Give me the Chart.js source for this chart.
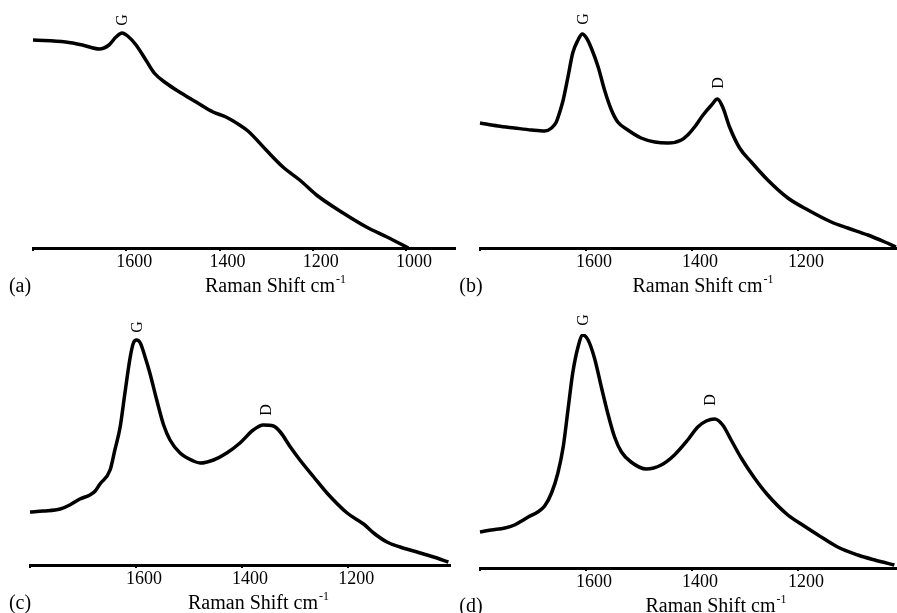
<!DOCTYPE html>
<html>
<head>
<meta charset="utf-8">
<script src="https://cdn.jsdelivr.net/npm/chart.js@4.4.0/dist/chart.umd.min.js"></script>
<style>
  body { margin: 0; background: #fff; }
  .panel { position: absolute; }
</style>
</head>
<body>
<div class="panel" style="left:0;top:0;width:458px;height:300px"><canvas id="chartA"></canvas></div>
<div class="panel" style="left:448px;top:0;width:449px;height:300px"><canvas id="chartB"></canvas></div>
<div class="panel" style="left:0;top:300px;width:452px;height:313px"><canvas id="chartC"></canvas></div>
<div class="panel" style="left:448px;top:300px;width:449px;height:313px"><canvas id="chartD"></canvas></div>
<script>
// Raman spectra, wavenumber (cm-1) vs intensity (a.u.)

// (a)
const waveA = [1800,1730,1694,1658,1637,1622,1609,1597,1579,1558,1540,1515,1486,1450,1414,1386,1357,1339,1300,1264,1228,1192,1135,1085,1041,995];
const intA  = [208,206,203,199,203,211,215,212,203,188,175,165,156,146,136,131,123,117,98,81,68,53,35,21,11,0];
const ticksA = [1800,1600,1400,1200,1000];

// (b)
const waveB = [1800,1766,1735,1703,1678,1665,1656,1650,1643,1634,1625,1615,1607,1599,1590,1577,1565,1552,1540,1521,1496,1470,1445,1420,1408,1395,1379,1363,1352,1342,1329,1310,1288,1257,1219,1181,1137,1106,1068,1036,1015];
const intB  = [125,122,120,118,117,120,126,135,148,171,195,208,214,210,200,181,158,138,126,118,110,106,105,108,113,121,133,143,149,141,121,100,86,68,50,38,26,20,13,6,1];

// (c)
const waveC = [1800,1775,1743,1725,1706,1687,1677,1668,1649,1640,1630,1621,1611,1605,1599,1592,1583,1574,1561,1548,1536,1517,1492,1479,1454,1429,1404,1379,1360,1341,1328,1309,1291,1265,1240,1202,1171,1152,1127,1102,1070,1039,1011];
const intC  = [53,54,56,60,66,70,74,81,95,115,138,172,208,222,225,222,208,192,165,140,125,112,104,102,105,112,122,135,140,139,133,118,105,88,72,52,41,32,23,18,13,8,3];

// (d)
const waveD = [1800,1779,1753,1735,1725,1709,1691,1678,1665,1653,1643,1634,1625,1615,1606,1596,1584,1571,1559,1546,1533,1515,1486,1458,1433,1408,1389,1373,1357,1342,1326,1307,1282,1257,1219,1194,1162,1125,1087,1055,1018];
const intD  = [36,38,40,43,46,51,56,62,75,95,121,158,195,221,233,228,210,181,155,131,116,106,99,103,113,128,141,147,149,143,128,110,90,73,53,44,33,21,13,8,3];

const ticksBCD = [1800,1600,1400,1200];

// peak labels: name, wavenumber, label level (a.u.)
const peaksA = [['G', 1607, 228]];
const peaksB = [['G', 1605, 229], ['D', 1350, 165]];
const peaksC = [['G', 1597, 238], ['D', 1353, 155]];
const peaksD = [['G', 1604, 248], ['D', 1364, 168]];

const SERIF = '"Liberation Serif", "Times New Roman", serif';
Chart.defaults.font.family = SERIF;
Chart.defaults.color = '#000';

// axis title with superscript, panel letter and the rotated G / D labels
const panelText = {
    id: 'panelText',
    afterDraw(chart, args, opts) {
        const { ctx, chartArea, scales } = chart;
        ctx.save();
        ctx.fillStyle = '#000';
        ctx.textBaseline = 'middle';

        const ty = chartArea.bottom + 39;
        const main = 'Raman Shift cm';
        const sup = '-1';
        ctx.font = '20px ' + SERIF;
        const w1 = ctx.measureText(main).width;
        ctx.font = '12px ' + SERIF;
        const w2 = ctx.measureText(sup).width;
        const cx = (chartArea.left + chartArea.right) / 2 + opts.titleShift;
        const sx = cx - (w1 + w2) / 2;
        ctx.textAlign = 'left';
        ctx.font = '20px ' + SERIF;
        ctx.fillText(main, sx, ty);
        ctx.font = '12px ' + SERIF;
        ctx.fillText(sup, sx + w1 + 1, ty - 7);

        ctx.font = '20px ' + SERIF;
        ctx.textAlign = 'center';
        ctx.fillText(opts.letter, opts.letterX, ty);

        ctx.font = '16px ' + SERIF;
        opts.peaks.forEach(([name, wave, level]) => {
            ctx.save();
            ctx.translate(scales.x.getPixelForValue(wave), scales.y.getPixelForValue(level));
            ctx.rotate(-Math.PI / 2);
            ctx.fillText(name, 0, 0);
            ctx.restore();
        });
        ctx.restore();
    }
};

function makePanel(id, waves, ints, cfg) {
    new Chart(document.getElementById(id), {
        type: 'line',
        data: {
            datasets: [{
                data: waves.map((w, i) => ({ x: w, y: ints[i] })),
                borderColor: '#000',
                borderWidth: 3.5,
                pointRadius: 0,
                cubicInterpolationMode: 'monotone',
                clip: 4,
            }]
        },
        options: {
            responsive: true,
            maintainAspectRatio: false,
            animation: false,
            layout: { padding: cfg.padding },
            scales: {
                x: {
                    type: 'linear',
                    reverse: true,
                    min: cfg.min,
                    max: 1800,
                    afterBuildTicks: s => { s.ticks = cfg.ticks.map(v => ({ value: v })); },
                    afterFit: s => { s.height = cfg.axisH; },
                    ticks: {
                        font: { size: 18 },
                        padding: 0,
                        labelOffset: 8,
                        maxRotation: 0,
                        callback: v => (v === 1800 ? '' : String(v)),
                    },
                    grid: { drawOnChartArea: false, tickLength: 3, color: '#000', lineWidth: 2 },
                    border: { color: '#000', width: 3 },
                },
                y: { display: false, min: 0, max: 230 }
            },
            plugins: {
                legend: { display: false },
                tooltip: { enabled: false },
                panelText: { letter: cfg.letter, letterX: cfg.letterX, titleShift: cfg.titleShift, peaks: cfg.peaks }
            }
        },
        plugins: [panelText]
    });
}

makePanel('chartA', waveA, intA, {
    min: 895, ticks: ticksA, axisH: 52, padding: { left: 33, right: 3, top: 18, bottom: 0 },
    letter: '(a)', letterX: 20, titleShift: 31, peaks: peaksA
});
makePanel('chartB', waveB, intB, {
    min: 1013, ticks: ticksBCD, axisH: 52, padding: { left: 32, right: 0, top: 18, bottom: 0 },
    letter: '(b)', letterX: 23, titleShift: 14, peaks: peaksB
});
makePanel('chartC', waveC, intC, {
    min: 1008, ticks: ticksBCD, axisH: 48, padding: { left: 30, right: 2, top: 35, bottom: 0 },
    letter: '(c)', letterX: 20, titleShift: 18, peaks: peaksC
});
makePanel('chartD', waveD, intD, {
    min: 1013, ticks: ticksBCD, axisH: 45, padding: { left: 32, right: 0, top: 38, bottom: 0 },
    letter: '(d)', letterX: 23, titleShift: 27, peaks: peaksD
});
</script>
</body>
</html>
